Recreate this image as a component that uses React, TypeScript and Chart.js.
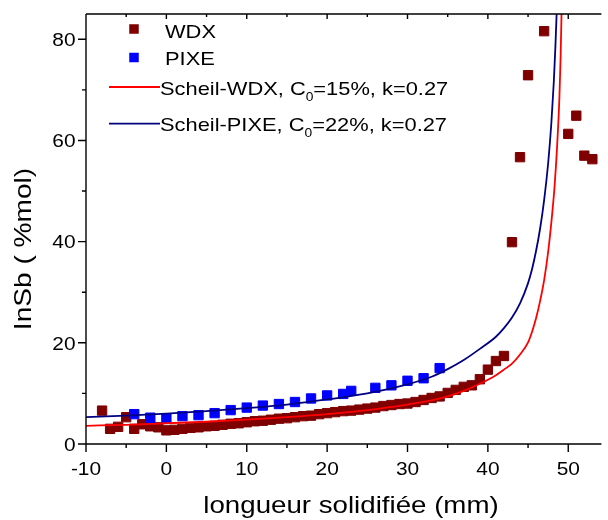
import React, { useEffect, useRef } from "react";
import { Chart, registerables } from "chart.js";

Chart.register(...registerables);

// ---- data ----
const wdxX = [-8, -7, -6, -5, -4, -3, -2, -1, 0, 1, 2, 3, 4, 5, 6, 7, 8, 9, 10, 11, 12, 13, 14, 15, 16, 17, 18, 19, 20, 21, 22, 23, 24, 25, 26, 27, 28, 29, 30, 31, 32, 33, 34, 35, 36, 37, 38, 39, 40, 41, 42, 43, 44, 45, 47, 50, 51, 52, 53];
const wdxY = [6.6, 3.0, 3.4, 5.3, 3.0, 3.9, 3.5, 3.3, 2.7, 2.8, 3.0, 3.2, 3.3, 3.5, 3.6, 3.8, 4.0, 4.1, 4.3, 4.5, 4.6, 4.8, 5.0, 5.1, 5.3, 5.5, 5.6, 5.9, 6.1, 6.3, 6.5, 6.6, 6.8, 7.0, 7.2, 7.5, 7.7, 7.9, 8.0, 8.3, 8.7, 9.1, 9.4, 10.1, 10.7, 11.3, 11.6, 12.8, 14.7, 16.4, 17.4, 39.9, 56.7, 72.9, 81.6, 61.3, 64.9, 57.0, 56.3];

const pixeX = [-4, -2, 0, 2, 4, 6, 8, 10, 12, 14, 16, 18, 20, 22, 23, 26, 28, 30, 32, 34];
const pixeY = [5.9, 5.2, 5.0, 5.5, 5.7, 6.1, 6.7, 7.2, 7.6, 7.9, 8.3, 9.0, 9.6, 9.9, 10.5, 11.1, 11.6, 12.5, 13.0, 15.0];

const scheilWdxX = [-10, -5, 0, 5, 10, 15, 20, 25, 30, 33, 35, 37, 39, 41, 42, 43, 44, 45, 45.5, 46, 46.5, 47, 47.5, 48, 48.3, 48.6, 48.9, 49.05, 49.15, 49.25];
const scheilWdxY = [3.6, 3.8, 4.1, 4.4, 4.8, 5.3, 5.9, 6.7, 7.8, 8.6, 9.4, 10.5, 11.9, 13.6, 14.7, 15.9, 17.7, 20.1, 22.2, 24.9, 28.3, 32.4, 38.0, 45.5, 51.0, 58.5, 68.5, 76.5, 84.0, 93.0];

const scheilPixeX = [-10, -5, 0, 5, 10, 15, 20, 25, 30, 33, 35, 37, 39, 41, 42, 43, 44, 45, 45.5, 46, 46.5, 47, 47.5, 47.9, 48.2, 48.4, 48.6, 48.75];
const scheilPixeY = [5.3, 5.6, 6.0, 6.5, 7.1, 7.8, 8.8, 10.0, 11.8, 13.3, 14.8, 16.6, 18.8, 21.2, 22.9, 25.0, 27.8, 31.8, 34.6, 38.2, 42.6, 48.2, 55.5, 63.5, 71.5, 78.5, 87.0, 95.0];

const xMajorTicks = [-10, 0, 10, 20, 30, 40, 50];
const xMinorTicks = [-5, 5, 15, 25, 35, 45];
const yMajorTicks = [0, 20, 40, 60, 80];
const yMinorTicks = [10, 30, 50, 70];

const seriesNames = ["WDX", "PIXE"];
const curveNames = [
  { pre: "Scheil-WDX, C", sub: "0", post: "=15%, k=0.27" },
  { pre: "Scheil-PIXE, C", sub: "0", post: "=22%, k=0.27" },
];
const xTitle = "longueur solidifiée (mm)";
const yTitle = "InSb ( %mol)";

const WDX_COLOR = "#7f0000";
const PIXE_COLOR = "#0000ff";
const RED_LINE = "#ff0000";
const NAVY_LINE = "#000080";
const FONT = '"Liberation Sans", Arial, sans-serif';

function toPoints(xs: number[], ys: number[]) {
  return xs.map((x, i) => ({ x, y: ys[i] }));
}

function drawText(
  ctx: CanvasRenderingContext2D,
  text: string,
  x: number,
  y: number,
  size: number,
  sx: number,
  align: "left" | "center" | "right"
): number {
  ctx.save();
  ctx.font = `${size}px ${FONT}`;
  ctx.textAlign = "left";
  ctx.textBaseline = "alphabetic";
  const w = ctx.measureText(text).width * sx;
  let x0 = x;
  if (align === "center") x0 = x - w / 2;
  if (align === "right") x0 = x - w;
  ctx.translate(x0, y);
  ctx.scale(sx, 1);
  ctx.fillStyle = "#000";
  ctx.fillText(text, 0, 0);
  ctx.restore();
  return w;
}

const framePlugin = {
  id: "frame",
  afterDraw(chart: any) {
    const ctx: CanvasRenderingContext2D = chart.ctx;
    const { left, right, top, bottom } = chart.chartArea;
    const xs = chart.scales.x;
    const ys = chart.scales.y;
    ctx.save();
    ctx.strokeStyle = "#000";
    ctx.lineWidth = 1.4;
    ctx.beginPath();
    ctx.moveTo(left, top);
    ctx.lineTo(left, bottom);
    ctx.moveTo(left, bottom);
    ctx.lineTo(right + 1, bottom);
    ctx.moveTo(left, top);
    ctx.lineTo(right + 1, top);
    xMajorTicks.forEach((v) => {
      const p = xs.getPixelForValue(v);
      ctx.moveTo(p, bottom);
      ctx.lineTo(p, bottom + 8);
      ctx.moveTo(p, top);
      ctx.lineTo(p, top + 5);
    });
    xMinorTicks.forEach((v) => {
      const p = xs.getPixelForValue(v);
      ctx.moveTo(p, bottom);
      ctx.lineTo(p, bottom + 4);
      ctx.moveTo(p, top);
      ctx.lineTo(p, top + 3);
    });
    yMajorTicks.forEach((v) => {
      const p = ys.getPixelForValue(v);
      ctx.moveTo(left, p);
      ctx.lineTo(left - 8, p);
    });
    yMinorTicks.forEach((v) => {
      const p = ys.getPixelForValue(v);
      ctx.moveTo(left, p);
      ctx.lineTo(left - 4, p);
    });
    ctx.stroke();

    xMajorTicks.forEach((v) => {
      const p = xs.getPixelForValue(v);
      drawText(ctx, String(v), p, 475, 19, 1.1, "center");
    });
    yMajorTicks.forEach((v) => {
      const p = ys.getPixelForValue(v);
      drawText(ctx, String(v), 75.5, p + 6.8, 19, 1.1, "right");
    });

    drawText(ctx, xTitle, 351, 512.5, 24.5, 1.13, "center");
    ctx.save();
    ctx.translate(31, 249);
    ctx.rotate(-Math.PI / 2);
    drawText(ctx, yTitle, 0, 0, 24, 1.17, "center");
    ctx.restore();

    const sq = 9.5;
    ctx.fillStyle = WDX_COLOR;
    ctx.fillRect(134 - sq / 2, 29 - sq / 2, sq, sq);
    ctx.fillStyle = PIXE_COLOR;
    ctx.fillRect(134 - sq / 2, 57.5 - sq / 2, sq, sq);
    drawText(ctx, seriesNames[0], 165, 37.5, 19, 1.15, "left");
    drawText(ctx, seriesNames[1], 165, 65, 19, 1.15, "left");

    const rows = [
      { y: 87, color: RED_LINE },
      { y: 123.7, color: NAVY_LINE },
    ];
    rows.forEach((r, i) => {
      ctx.strokeStyle = r.color;
      ctx.lineWidth = 1.8;
      ctx.beginPath();
      ctx.moveTo(109, r.y);
      ctx.lineTo(160, r.y);
      ctx.stroke();
      const base = r.y + 7.5;
      let x = 160;
      x += drawText(ctx, curveNames[i].pre, x, base, 19, 1.15, "left");
      x += drawText(ctx, curveNames[i].sub, x, base + 6, 12, 1.15, "left");
      drawText(ctx, curveNames[i].post, x, base, 19, 1.15, "left");
    });
    ctx.restore();
  },
};

export default function App() {
  const ref = useRef<HTMLCanvasElement>(null);
  useEffect(() => {
    const canvas = ref.current;
    if (!canvas) return;
    const chart = new Chart(canvas, {
      type: "scatter",
      data: {
        datasets: [
          {
            label: "Scheil-WDX",
            data: toPoints(scheilWdxX, scheilWdxY),
            showLine: true,
            borderColor: RED_LINE,
            borderWidth: 1.8,
            pointRadius: 0,
            cubicInterpolationMode: "monotone",
            order: 0,
          },
          {
            label: "Scheil-PIXE",
            data: toPoints(scheilPixeX, scheilPixeY),
            showLine: true,
            borderColor: NAVY_LINE,
            borderWidth: 1.8,
            pointRadius: 0,
            cubicInterpolationMode: "monotone",
            order: 0,
          },
          {
            label: seriesNames[1],
            data: toPoints(pixeX, pixeY),
            pointStyle: "rect",
            pointRadius: 6.6,
            backgroundColor: PIXE_COLOR,
            borderColor: PIXE_COLOR,
            borderWidth: 1,
            order: 1,
          },
          {
            label: seriesNames[0],
            data: toPoints(wdxX, wdxY),
            pointStyle: "rect",
            pointRadius: 6.6,
            backgroundColor: WDX_COLOR,
            borderColor: WDX_COLOR,
            borderWidth: 1,
            order: 2,
          },
        ],
      } as any,
      options: {
        animation: false,
        responsive: false,
        events: [],
        layout: { padding: { left: 86, right: 1, top: 14, bottom: 76 } },
        scales: {
          x: { type: "linear", min: -10, max: 54, display: false },
          y: { type: "linear", min: 0, max: 85, display: false },
        },
        plugins: {
          legend: { display: false },
          tooltip: { enabled: false },
          title: { display: false },
        },
      } as any,
      plugins: [framePlugin],
    });
    return () => chart.destroy();
  }, []);
  return (
    <div style={{ position: "fixed", left: 0, top: 0, width: 608, height: 520, background: "#fff" }}>
      <canvas ref={ref} width={608} height={520} style={{ display: "block" }} />
    </div>
  );
}
